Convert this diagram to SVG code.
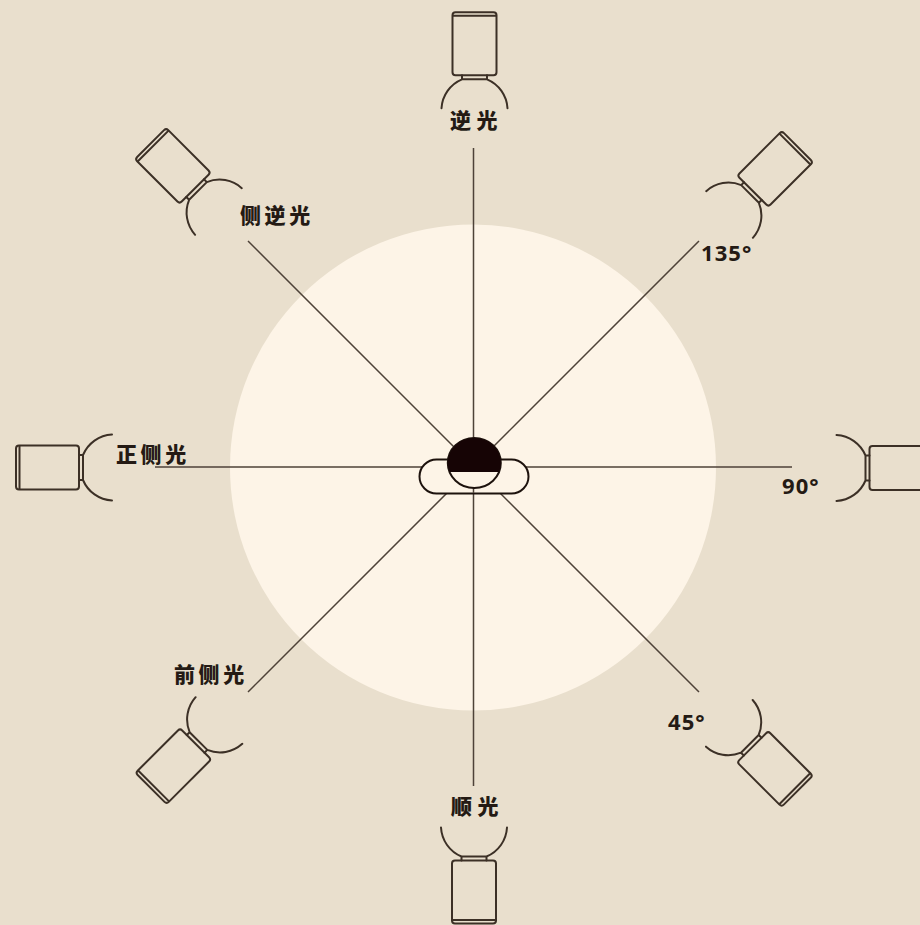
<svg xmlns="http://www.w3.org/2000/svg" width="920" height="925" viewBox="0 0 920 925">
<style>
.l{fill:none;stroke:#3c3026;stroke-width:2;stroke-linecap:round;stroke-linejoin:round}
.c{stroke:#4e4238;stroke-width:1.5;fill:none}
.t{font-family:"Noto Sans CJK SC","Noto Sans",sans-serif;font-weight:900;font-size:21px;letter-spacing:3.6px;fill:#241a14}
.w{letter-spacing:5.5px}
.n{font-family:"Noto Sans","Noto Sans CJK SC",sans-serif;font-weight:700;font-size:22px;letter-spacing:1.1px;fill:#241a14}
</style>
<defs>
<g id="lamp">
<rect class="l" x="-22" y="-100" width="44" height="63" rx="3"/>
<path class="l" d="M-21.500 -96.500H21.500M-12.500 -37V-33M12.500 -37V-33M-12.500 -33H12.500M-33 -4A33.300 33.300 0 0 1 -12.500 -33M12.500 -33A33.300 33.300 0 0 1 33 -4"/>
</g>
</defs>
<rect width="920" height="925" fill="#e9dfcd"/>
<circle cx="473" cy="467.5" r="243" fill="#fdf4e7"/>
<g id="connectors">
<path class="c" d="M473.500 148V786M155 467H792M248 241L699 692M699 241L248 692"/>
</g>
<g id="subject">
<rect x="419.500" y="459.500" width="109" height="34" rx="17" style="fill:#fdf4e7;stroke:#1d120d;stroke-width:2"/>
<path class="c" d="M473.500 488V493"/>
<ellipse cx="474.300" cy="463" rx="26.500" ry="25" style="fill:#fdf4e7;stroke:#1d120d;stroke-width:2"/>
<path d="M449.600 472A26.500 25 0 1 1 499 472Z" fill="#160405"/>
</g>
<g id="lamp-back"><use href="#lamp" transform="translate(474.500 112.300)"/><text class="t w" x="450" y="128">逆光</text></g>
<g id="lamp-135"><use href="#lamp" transform="translate(726.700 217.300) rotate(45)"/><text class="n" x="701" y="261">135°</text></g>
<g id="lamp-90"><use href="#lamp" transform="translate(832.500 468) rotate(90)"/><text class="n" x="782" y="494">90°</text></g>
<g id="lamp-45"><use href="#lamp" transform="translate(726.500 720.500) rotate(135)"/><text class="n" x="668" y="730">45°</text></g>
<g id="lamp-front"><use href="#lamp" transform="translate(474 823.500) rotate(180)"/><text class="t w" x="451" y="814">顺光</text></g>
<g id="lamp-front-side"><use href="#lamp" transform="translate(221.800 717.700) rotate(225)"/><text class="t" x="174" y="682">前侧光</text></g>
<g id="lamp-side"><use href="#lamp" transform="translate(116 467.500) rotate(270)"/><text class="t" x="116" y="462">正侧光</text></g>
<g id="lamp-back-side"><use href="#lamp" transform="translate(221.300 214.300) rotate(315)"/><text class="t" x="240" y="223">侧逆光</text></g>
</svg>
